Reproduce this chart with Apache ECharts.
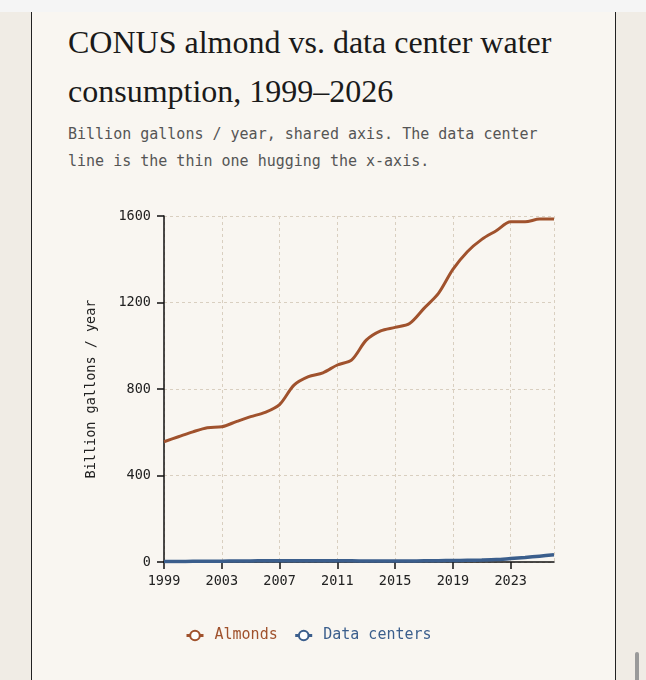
<!DOCTYPE html>
<html>
<head>
<meta charset="utf-8">
<script src="https://cdn.jsdelivr.net/npm/echarts@6/dist/echarts.min.js"></script>
<style>
  html, body { margin: 0; padding: 0; }
  body { width: 646px; height: 680px; background: #f0ece5; position: relative; overflow: hidden; }
  .topbar { position: absolute; left: 0; top: 0; width: 646px; height: 12px; background: #f5f5f5; }
  .card { position: absolute; left: 31px; top: 12px; width: 583px; height: 700px;
          background: #f9f6f1; border-left: 1.5px solid #222; border-right: 1.5px solid #222; }
  .title { position: absolute; left: 68px; top: 18px; width: 520px; margin: 0;
           font-family: "Liberation Serif", "DejaVu Serif", serif; font-weight: normal;
           font-size: 32px; line-height: 49px; color: #1a1a1a; }
  .sub { position: absolute; left: 68px; top: 121px; width: 490px; margin: 0;
         font-family: "DejaVu Sans Mono", monospace; font-size: 15px; line-height: 27px; color: #555; }
  #chart { position: absolute; left: 0; top: 0; width: 646px; height: 680px; }
  .scroll { position: absolute; left: 635px; top: 652px; width: 4px; height: 30px; border-radius: 2px; background: #9a9a9a; }
</style>
</head>
<body>
<div class="topbar"></div>
<div class="card"></div>
<h1 class="title">CONUS almond vs. data center water consumption, 1999–2026</h1>
<p class="sub">Billion gallons / year, shared axis. The data center line is the thin one hugging the x-axis.</p>
<div id="chart"></div>
<div class="scroll"></div>
<script>
// years on the x axis
var years = [];
for (var y = 1999; y <= 2026; y++) years.push(String(y));

// billion gallons / year
var almonds = [556, 579, 602, 621, 625, 649, 672, 692, 728, 818, 857, 875, 911, 935,
               1026, 1069, 1085, 1103, 1173, 1242, 1353, 1435, 1492, 1532, 1573, 1573, 1586, 1586];
var dataCenters = [2, 2.5, 3, 3.5, 4, 4.5, 5, 5.5, 6, 6, 6, 6, 6, 5.5,
                   5, 5, 5, 5, 5.5, 6, 7, 8, 9, 11, 16, 21, 27, 33];

var yTicks = [0, 400, 800, 1200, 1600];

var mono = '"DejaVu Sans Mono", monospace';
var almondColor = '#a0522d';
var dcColor = '#3b5e8c';

var chart = echarts.init(document.getElementById('chart'));
chart.setOption({
  animation: false,
  grid: { left: 164, right: 92, top: 216, bottom: 118 },
  legend: {
    bottom: 32,
    left: 180,
    itemWidth: 17,
    itemHeight: 12,
    itemGap: 16,
    textStyle: { fontFamily: mono, fontSize: 15, padding: [0, 0, 0, 6] },
    data: [
      {
        name: 'Almonds',
        textStyle: { color: almondColor },
        lineStyle: { width: 3 },
        itemStyle: { borderWidth: 3 }
      },
      {
        name: 'Data centers',
        textStyle: { color: dcColor },
        lineStyle: { width: 3 },
        itemStyle: { borderWidth: 3 }
      }
    ]
  },
  xAxis: {
    type: 'category',
    data: years,
    boundaryGap: false,
    axisLine: { lineStyle: { color: '#111', width: 1.5 } },
    axisTick: {
      length: 7,
      interval: function (i) { return i % 4 === 0; },
      lineStyle: { color: '#111', width: 1.5 }
    },
    axisLabel: {
      interval: function (i) { return i % 4 === 0; },
      fontFamily: mono, fontSize: 13.5, color: '#222', margin: 12
    },
    splitLine: {
      show: true,
      interval: function (i) { return i % 4 === 0 || i === years.length - 1; },
      lineStyle: { color: '#d9cfc0', type: [3, 3], width: 1 }
    }
  },
  yAxis: {
    type: 'value',
    min: yTicks[0],
    max: yTicks[yTicks.length - 1],
    interval: 400,
    name: 'Billion gallons / year',
    nameLocation: 'middle',
    nameGap: 66,
    nameTextStyle: { fontFamily: mono, fontSize: 13.5, color: '#222' },
    axisLine: { show: true, lineStyle: { color: '#111', width: 1.5 } },
    axisTick: { show: true, length: 7, lineStyle: { color: '#111', width: 1.5 } },
    axisLabel: {
      fontFamily: mono, fontSize: 13.5, color: '#222', margin: 13,
      formatter: function (v) { return String(v); }
    },
    splitLine: { lineStyle: { color: '#d9cfc0', type: [3, 3], width: 1 } }
  },
  series: [
    {
      name: 'Almonds',
      type: 'line',
      data: almonds,
      smooth: 0.3,
      symbol: 'emptyCircle',
      symbolSize: 8,
      showSymbol: false,
      color: almondColor,
      lineStyle: { width: 3, color: almondColor }
    },
    {
      name: 'Data centers',
      type: 'line',
      data: dataCenters,
      smooth: 0.3,
      symbol: 'emptyCircle',
      symbolSize: 8,
      showSymbol: false,
      color: dcColor,
      lineStyle: { width: 3.5, color: dcColor }
    }
  ]
});
</script>
</body>
</html>
